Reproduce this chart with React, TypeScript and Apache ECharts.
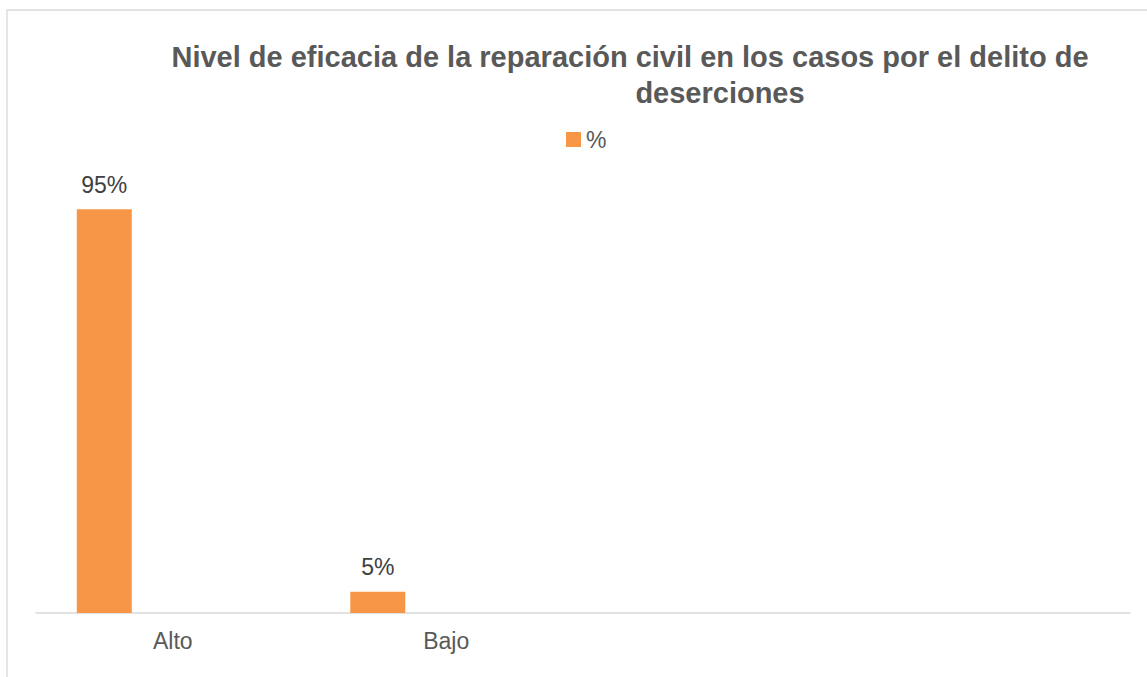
import React, { useEffect, useRef } from "react";
import * as echarts from "echarts";

const titleLine1 = "Nivel de eficacia de la reparación civil en los casos por el delito de";
const titleLine2 = "deserciones";
const categories = ["Alto", "Bajo", "", ""];
const seriesName = "%";
const percentValues = [95, 5, null, null];
const spacerValues = [null, null, null, null];

const FONT = "'Liberation Sans', Arial, sans-serif";

export default function App() {
  const ref = useRef<HTMLDivElement>(null);

  useEffect(() => {
    if (!ref.current) return;
    const chart = echarts.init(ref.current, undefined, { renderer: "svg" });
    chart.setOption({
      animation: false,
      backgroundColor: "#ffffff",
      textStyle: { fontFamily: FONT },
      title: [
        {
          text: titleLine1,
          left: 630,
          top: 42,
          padding: 0,
          textAlign: "center",
          textStyle: { fontSize: 29, fontWeight: "bold", color: "#595959", fontFamily: FONT },
        },
        {
          text: titleLine2,
          left: 720,
          top: 78,
          padding: 0,
          textAlign: "center",
          textStyle: { fontSize: 29, fontWeight: "bold", color: "#595959", fontFamily: FONT },
        },
      ],
      legend: {
        data: [seriesName],
        left: 566,
        top: 128,
        padding: 0,
        itemWidth: 15,
        itemHeight: 15,
        icon: "rect",
        textStyle: { fontSize: 23, color: "#595959", fontFamily: FONT },
      },
      graphic: [
        {
          type: "rect",
          shape: { x: 7, y: 10, width: 1300, height: 800 },
          style: { fill: "none", stroke: "#d9d9d9", lineWidth: 1.3 },
          silent: true,
        },
      ],
      grid: { left: 36, right: 17, top: 188, bottom: 64, containLabel: false },
      xAxis: {
        type: "category",
        data: categories,
        axisTick: { show: false },
        axisLine: { show: true, lineStyle: { color: "#d9d9d9", width: 1.5 } },
        axisLabel: { interval: 0, color: "#595959", fontSize: 23, margin: 16, fontFamily: FONT },
        splitLine: { show: false },
      },
      yAxis: {
        type: "value",
        min: 0,
        max: 100,
        show: false,
        splitLine: { show: false },
      },
      series: [
        {
          name: seriesName,
          type: "bar",
          data: percentValues,
          barWidth: 55,
          barGap: "149%",
          itemStyle: { color: "#F79646" },
          label: {
            show: true,
            position: "top",
            distance: 13,
            formatter: "{c}%",
            color: "#404040",
            fontSize: 23,
            fontFamily: FONT,
          },
        },
        {
          name: "spacer",
          type: "bar",
          data: spacerValues,
          barWidth: 55,
          barGap: "149%",
          itemStyle: { color: "transparent" },
        },
      ],
    });
    return () => chart.dispose();
  }, []);

  return (
    <div
      ref={ref}
      style={{ position: "absolute", left: 0, top: 0, width: 1147, height: 677 }}
    />
  );
}
